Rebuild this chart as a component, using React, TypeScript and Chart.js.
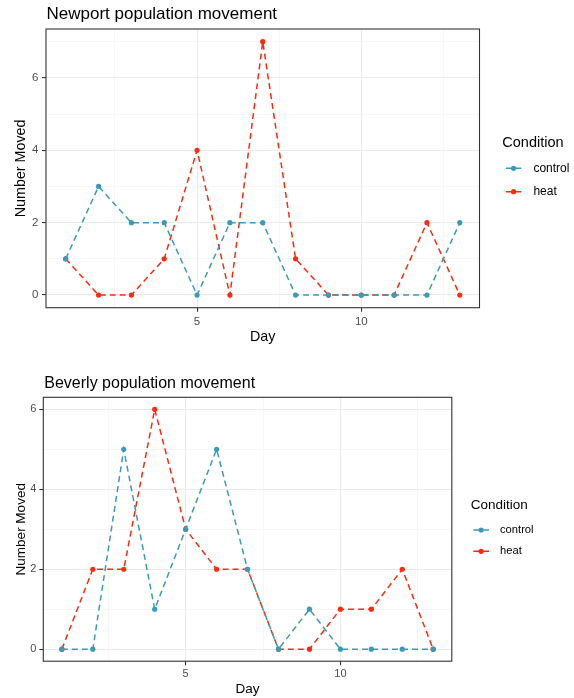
import React, { useEffect, useRef } from "react";
import { Chart, registerables } from "chart.js";

Chart.register(...registerables);

// ---------- data ----------
const days = [1, 2, 3, 4, 5, 6, 7, 8, 9, 10, 11, 12, 13];

const newportControl = [1, 3, 2, 2, 0, 2, 2, 0, 0, 0, 0, 0, 2];
const newportHeat = [1, 0, 0, 1, 4, 0, 7, 1, 0, 0, 0, 2, 0];

const beverlyControl = [0, 0, 5, 1, 3, 5, 2, 0, 1, 0, 0, 0, 0];
const beverlyHeat = [0, 2, 2, 6, 3, 2, 2, 0, 0, 1, 1, 2, 0];

const seriesNames = ["control", "heat"];
const xMajorTicks = [5, 10];
const xMinorTicks = [2.5, 7.5, 12.5];
const newportYMajor = [0, 2, 4, 6];
const newportYMinor = [1, 3, 5, 7];
const beverlyYMajor = [0, 2, 4, 6];
const beverlyYMinor = [1, 3, 5];

const COLORS = ["#3b9ab8", "#fb2a10"];
const FONT = '"Liberation Sans", Arial, Helvetica, sans-serif';

// ---------- plugins ----------
const ggPlugin = {
  id: "gg",
  afterDatasetsDraw(chart: any) {
    const { ctx, chartArea: a } = chart;
    ctx.save();
    ctx.strokeStyle = "#333333";
    ctx.lineWidth = 1.1;
    ctx.setLineDash([]);
    ctx.strokeRect(a.left, a.top, a.right - a.left, a.bottom - a.top);
    ctx.restore();
  },
  afterDraw(chart: any, _args: any, opts: any) {
    const { ctx } = chart;
    ctx.save();
    ctx.fillStyle = "#000000";
    ctx.textBaseline = "alphabetic";
    ctx.textAlign = "left";
    ctx.font = `${opts.titleSize}px ${FONT}`;
    ctx.fillText(opts.title, opts.titleX, opts.titleBaseline);

    const L = opts.legend;
    ctx.textBaseline = "middle";
    ctx.font = `${L.titleSize}px ${FONT}`;
    ctx.fillText(L.title, L.titleX, L.titleY);
    chart.data.datasets.forEach((ds: any, i: number) => {
      const y = L.itemY[i];
      ctx.strokeStyle = ds.borderColor;
      ctx.lineWidth = ds.borderWidth;
      ctx.setLineDash(ds.borderDash);
      ctx.beginPath();
      ctx.moveTo(L.keyX0, y);
      ctx.lineTo(L.keyX1, y);
      ctx.stroke();
      ctx.setLineDash([]);
      ctx.fillStyle = ds.pointBackgroundColor;
      ctx.beginPath();
      ctx.arc((L.keyX0 + L.keyX1) / 2, y, ds.pointRadius, 0, Math.PI * 2);
      ctx.fill();
      ctx.fillStyle = "#000000";
      ctx.font = `${L.labelSize}px ${FONT}`;
      ctx.fillText(ds.label, L.labelX, y);
    });
    ctx.restore();
  },
};

type Spec = {
  width: number;
  height: number;
  area: { left: number; top: number; right: number; bottom: number };
  yMin: number;
  yMax: number;
  yMajor: number[];
  yMinor: number[];
  control: number[];
  heat: number[];
  title: string;
  titleSize: number;
  titleX: number;
  titleBaseline: number;
  axisTitleSize: number;
  tickSize: number;
  yTitleCenterX: number;
  xTitleCenterY: number;
  xTickPad: number;
  yTickPad: number;
  legend: any;
};

function buildConfig(s: Spec): any {
  const mk = (vals: number[], i: number) => ({
    label: seriesNames[i],
    data: days.map((d, k) => ({ x: d, y: vals[k] })),
    borderColor: COLORS[i],
    backgroundColor: COLORS[i],
    pointBackgroundColor: COLORS[i],
    pointBorderWidth: 0,
    pointRadius: 2.6,
    borderWidth: 1.5,
    borderDash: [6, 4],
    tension: 0,
    fill: false,
  });
  const isMajor = (arr: number[], v: number) => arr.some((m) => Math.abs(m - v) < 1e-6);
  const axLH = s.axisTitleSize * 1.2;
  const xTicksAll = [...xMajorTicks, ...xMinorTicks].sort((a, b) => a - b);
  const yTicksAll = [...s.yMajor, ...s.yMinor].sort((a, b) => a - b);
  return {
    type: "line",
    data: { datasets: [mk(s.control, 0), mk(s.heat, 1)] },
    options: {
      responsive: false,
      animation: false,
      devicePixelRatio: 1,
      layout: {
        padding: {
          left: 0,
          top: s.area.top,
          right: s.width - s.area.right,
          bottom: 0,
        },
      },
      plugins: {
        legend: { display: false },
        title: { display: false },
        tooltip: { enabled: false },
        gg: {
          title: s.title,
          titleSize: s.titleSize,
          titleX: s.titleX,
          titleBaseline: s.titleBaseline,
          legend: s.legend,
        },
      },
      scales: {
        x: {
          type: "linear",
          min: 0.4,
          max: 13.6,
          afterBuildTicks: (sc: any) => {
            sc.ticks = xTicksAll.map((v) => ({ value: v }));
          },
          afterFit: (sc: any) => {
            sc.height = s.height - s.area.bottom;
          },
          ticks: {
            autoSkip: false,
            maxRotation: 0,
            padding: s.xTickPad,
            color: "#4d4d4d",
            font: { family: FONT, size: s.tickSize },
            callback: (v: number) => (isMajor(xMajorTicks, v) ? String(v) : ""),
          },
          grid: {
            drawTicks: true,
            tickLength: 4,
            color: (c: any) => (c.tick && isMajor(xMajorTicks, c.tick.value) ? "#ebebeb" : "#f2f2f2"),
            lineWidth: (c: any) => (c.tick && isMajor(xMajorTicks, c.tick.value) ? 1.1 : 0.6),
            tickColor: (c: any) => (c.tick && isMajor(xMajorTicks, c.tick.value) ? "#333333" : "rgba(0,0,0,0)"),
            tickWidth: 1.1,
          },
          border: { display: false },
          title: {
            display: true,
            text: "Day",
            color: "#000000",
            font: { family: FONT, size: s.axisTitleSize, lineHeight: 1.2 },
            padding: { top: 0, bottom: s.height - s.xTitleCenterY - axLH / 2 },
          },
        },
        y: {
          type: "linear",
          min: s.yMin,
          max: s.yMax,
          afterBuildTicks: (sc: any) => {
            sc.ticks = yTicksAll.map((v) => ({ value: v }));
          },
          afterFit: (sc: any) => {
            sc.width = s.area.left;
          },
          ticks: {
            autoSkip: false,
            padding: s.yTickPad,
            color: "#4d4d4d",
            font: { family: FONT, size: s.tickSize },
            callback: (v: number) => (isMajor(s.yMajor, v) ? String(v) : ""),
          },
          grid: {
            drawTicks: true,
            tickLength: 4,
            color: (c: any) => (c.tick && isMajor(s.yMajor, c.tick.value) ? "#ebebeb" : "#f2f2f2"),
            lineWidth: (c: any) => (c.tick && isMajor(s.yMajor, c.tick.value) ? 1.1 : 0.6),
            tickColor: (c: any) => (c.tick && isMajor(s.yMajor, c.tick.value) ? "#333333" : "rgba(0,0,0,0)"),
            tickWidth: 1.1,
          },
          border: { display: false },
          title: {
            display: true,
            text: "Number Moved",
            color: "#000000",
            font: { family: FONT, size: s.axisTitleSize, lineHeight: 1.2 },
            padding: { top: s.yTitleCenterX - axLH / 2, bottom: 0 },
          },
        },
      },
    },
    plugins: [ggPlugin],
  };
}

const topSpec: Spec = {
  width: 574,
  height: 350,
  area: { left: 46, top: 29, right: 479.5, bottom: 307.7 },
  yMin: -0.35,
  yMax: 7.35,
  yMajor: newportYMajor,
  yMinor: newportYMinor,
  control: newportControl,
  heat: newportHeat,
  title: "Newport population movement",
  titleSize: 17,
  titleX: 46.5,
  titleBaseline: 18.5,
  axisTitleSize: 14.3,
  tickSize: 11.5,
  yTitleCenterX: 21,
  xTitleCenterY: 336.7,
  xTickPad: 3,
  yTickPad: 3.5,
  legend: {
    title: "Condition",
    titleSize: 14.5,
    titleX: 502.3,
    titleY: 143.3,
    keyX0: 505.9,
    keyX1: 521.3,
    labelX: 533.4,
    labelSize: 12,
    itemY: [168.3, 191.7],
  },
};

const bottomSpec: Spec = {
  width: 574,
  height: 348,
  area: { left: 43.3, top: 47.3, right: 451.8, bottom: 311.2 },
  yMin: -0.3,
  yMax: 6.3,
  yMajor: beverlyYMajor,
  yMinor: beverlyYMinor,
  control: beverlyControl,
  heat: beverlyHeat,
  title: "Beverly population movement",
  titleSize: 16,
  titleX: 44.3,
  titleBaseline: 37.7,
  axisTitleSize: 13.5,
  tickSize: 11,
  yTitleCenterX: 21,
  xTitleCenterY: 339.3,
  xTickPad: 2.5,
  yTickPad: 3,
  legend: {
    title: "Condition",
    titleSize: 13.5,
    titleX: 470.8,
    titleY: 155.7,
    keyX0: 473.3,
    keyX1: 489,
    labelX: 500,
    labelSize: 11.2,
    itemY: [180, 201.3],
  },
};

function GGChart({ spec }: { spec: Spec }) {
  const ref = useRef<HTMLCanvasElement | null>(null);
  useEffect(() => {
    if (!ref.current) return;
    const chart = new Chart(ref.current, buildConfig(spec));
    return () => chart.destroy();
  }, [spec]);
  return (
    <canvas
      ref={ref}
      width={spec.width}
      height={spec.height}
      style={{ display: "block", width: spec.width, height: spec.height }}
    />
  );
}

export default function App() {
  return (
    <div
      style={{
        position: "absolute",
        left: 0,
        top: 0,
        width: 574,
        height: 698,
        background: "#ffffff",
        overflow: "hidden",
      }}
    >
      <GGChart spec={topSpec} />
      <GGChart spec={bottomSpec} />
    </div>
  );
}
